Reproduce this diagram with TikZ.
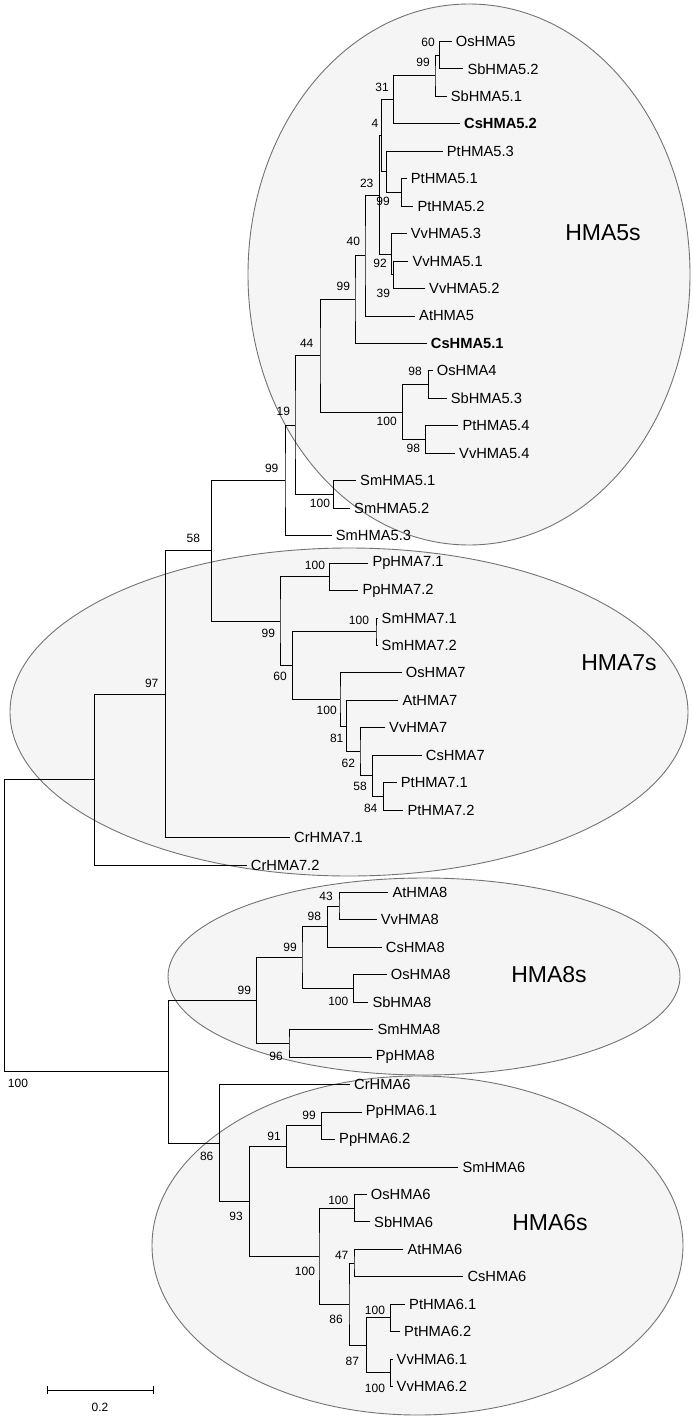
\documentclass[tikz,border=0pt]{standalone}
\usepackage{fontspec}
\setmainfont{Liberation Sans}
\begin{document}
\begin{tikzpicture}[x=1pt,y=-1pt,
  br/.style={line width=0.9pt, black},
  leaf/.style={anchor=west, inner sep=0pt, xshift=4pt, font=\fontsize{14.7}{16}\selectfont},
  bleaf/.style={leaf, font=\fontsize{14.7}{16}\selectfont\bfseries},
  boot/.style={inner sep=0pt, font=\fontsize{12}{13}\selectfont},
  grp/.style={inner sep=0pt, font=\fontsize{23}{26}\selectfont},
  cladefill/.style={fill=black!4, draw=none},
  cladeline/.style={draw=black!55, line width=0.9pt}]
\useasboundingbox (0,0) rectangle (693,1421);
% clade ellipses
\fill[cladefill] (469,274.5) ellipse [x radius=221pt, y radius=270.5pt];
\fill[cladefill] (349,712) ellipse [x radius=339pt, y radius=164pt];
\fill[cladefill] (424,976.5) ellipse [x radius=256pt, y radius=98.5pt];
\fill[cladefill] (417.5,1245.5) ellipse [x radius=265.5pt, y radius=169.5pt];
\draw[cladeline] (469,274.5) ellipse [x radius=221pt, y radius=270.5pt];
\draw[cladeline] (349,712) ellipse [x radius=339pt, y radius=164pt];
\draw[cladeline] (424,976.5) ellipse [x radius=256pt, y radius=98.5pt];
\draw[cladeline] (417.5,1245.5) ellipse [x radius=265.5pt, y radius=169.5pt];
\node[grp] (g5) at (603,233) {HMA5s};
\node[grp] (g7) at (619,663) {HMA7s};
\node[grp] (g8) at (549,975) {HMA8s};
\node[grp] (g6) at (550,1223) {HMA6s};
% leaves
\coordinate (a0) at (451.7,41.5);   \node[leaf] (L0) at (a0) {OsHMA5};
\coordinate (a1) at (463.3,68.95);  \node[leaf] (L1) at (a1) {SbHMA5.2};
\coordinate (a2) at (446.7,96.4);   \node[leaf] (L2) at (a2) {SbHMA5.1};
\coordinate (a3) at (460,123.85);   \node[bleaf] (L3) at (a3) {CsHMA5.2};
\coordinate (a4) at (442.7,151.3);  \node[leaf] (L4) at (a4) {PtHMA5.3};
\coordinate (a5) at (406.7,178.75); \node[leaf] (L5) at (a5) {PtHMA5.1};
\coordinate (a6) at (413.3,206.2);  \node[leaf] (L6) at (a6) {PtHMA5.2};
\coordinate (a7) at (406.7,233.65); \node[leaf] (L7) at (a7) {VvHMA5.3};
\coordinate (a8) at (408.3,261.1);  \node[leaf] (L8) at (a8) {VvHMA5.1};
\coordinate (a9) at (425,288.55);   \node[leaf] (L9) at (a9) {VvHMA5.2};
\coordinate (a10) at (415,316.0);   \node[leaf] (L10) at (a10) {AtHMA5};
\coordinate (a11) at (426.7,343.45);\node[bleaf] (L11) at (a11) {CsHMA5.1};
\coordinate (a12) at (432.7,370.9); \node[leaf] (L12) at (a12) {OsHMA4};
\coordinate (a13) at (446.7,398.35);\node[leaf] (L13) at (a13) {SbHMA5.3};
\coordinate (a14) at (458.3,425.8); \node[leaf] (L14) at (a14) {PtHMA5.4};
\coordinate (a15) at (455,453.25);  \node[leaf] (L15) at (a15) {VvHMA5.4};
\coordinate (a16) at (356,480.7);   \node[leaf] (L16) at (a16) {SmHMA5.1};
\coordinate (a17) at (350,508.15);  \node[leaf] (L17) at (a17) {SmHMA5.2};
\coordinate (a18) at (331.7,535.6); \node[leaf] (L18) at (a18) {SmHMA5.3};
\coordinate (a19) at (368.3,563.05);\node[leaf] (L19) at (a19) {PpHMA7.1};
\coordinate (a20) at (358.3,590.5); \node[leaf] (L20) at (a20) {PpHMA7.2};
\coordinate (a21) at (377.5,617.95);\node[leaf] (L21) at (a21) {SmHMA7.1};
\coordinate (a22) at (377.5,645.4); \node[leaf] (L22) at (a22) {SmHMA7.2};
\coordinate (a23) at (401.7,672.85);\node[leaf] (L23) at (a23) {OsHMA7};
\coordinate (a24) at (398.3,700.3); \node[leaf] (L24) at (a24) {AtHMA7};
\coordinate (a25) at (385,727.75);  \node[leaf] (L25) at (a25) {VvHMA7};
\coordinate (a26) at (421.7,755.2); \node[leaf] (L26) at (a26) {CsHMA7};
\coordinate (a27) at (396.7,782.65);\node[leaf] (L27) at (a27) {PtHMA7.1};
\coordinate (a28) at (403.3,810.1); \node[leaf] (L28) at (a28) {PtHMA7.2};
\coordinate (a29) at (290,837.55);  \node[leaf] (L29) at (a29) {CrHMA7.1};
\coordinate (a30) at (246.7,865.0); \node[leaf] (L30) at (a30) {CrHMA7.2};
\coordinate (a31) at (388.3,892.45);\node[leaf] (L31) at (a31) {AtHMA8};
\coordinate (a32) at (376.7,919.9); \node[leaf] (L32) at (a32) {VvHMA8};
\coordinate (a33) at (381.7,947.35);\node[leaf] (L33) at (a33) {CsHMA8};
\coordinate (a34) at (386.7,974.8); \node[leaf] (L34) at (a34) {OsHMA8};
\coordinate (a35) at (368.3,1002.25);\node[leaf] (L35) at (a35) {SbHMA8};
\coordinate (a36) at (373.3,1029.7);\node[leaf] (L36) at (a36) {SmHMA8};
\coordinate (a37) at (371.7,1057.15);\node[leaf] (L37) at (a37) {PpHMA8};
\coordinate (a38) at (350,1084.6);  \node[leaf] (L38) at (a38) {CrHMA6};
\coordinate (a39) at (361.7,1112.05);\node[leaf] (L39) at (a39) {PpHMA6.1};
\coordinate (a40) at (335,1139.5);  \node[leaf] (L40) at (a40) {PpHMA6.2};
\coordinate (a41) at (458.3,1166.95);\node[leaf] (L41) at (a41) {SmHMA6};
\coordinate (a42) at (366.7,1194.4);\node[leaf] (L42) at (a42) {OsHMA6};
\coordinate (a43) at (370,1221.85); \node[leaf] (L43) at (a43) {SbHMA6};
\coordinate (a44) at (403.3,1249.3);\node[leaf] (L44) at (a44) {AtHMA6};
\coordinate (a45) at (463.3,1276.75);\node[leaf] (L45) at (a45) {CsHMA6};
\coordinate (a46) at (405,1304.2);  \node[leaf] (L46) at (a46) {PtHMA6.1};
\coordinate (a47) at (400,1331.65); \node[leaf] (L47) at (a47) {PtHMA6.2};
\coordinate (a48) at (392.5,1359.1);\node[leaf] (L48) at (a48) {VvHMA6.1};
\coordinate (a49) at (392.5,1386.55);\node[leaf] (L49) at (a49) {VvHMA6.2};
% internal nodes
\coordinate (n60) at (439.3,55.2);
\coordinate (n99a) at (435,75.8);
\coordinate (n31) at (393.3,99.8);
\coordinate (n99b) at (401.7,192.5);
\coordinate (nPt) at (386.7,171.9);
\coordinate (n4) at (381.7,135.9);
\coordinate (n39) at (393.3,274.8);
\coordinate (nVv) at (391.7,254.2);
\coordinate (n23) at (379.3,195.1);
\coordinate (n40) at (365,255.6);
\coordinate (n99c) at (355,299.5);
\coordinate (n98a) at (428.3,384.6);
\coordinate (n98b) at (425.7,439.5);
\coordinate (n100a) at (402.7,412.05);
\coordinate (n44) at (320,355.8);
\coordinate (nSm5) at (333.3,494.4);
\coordinate (n19) at (295,425.1);
\coordinate (n99d) at (285,480.35);
\coordinate (nPp7) at (329.3,576.8);
\coordinate (nSm7) at (376,631.7);
\coordinate (n84) at (383.3,796.4);
\coordinate (n58b) at (372.7,775.8);
\coordinate (n62) at (360,751.8);
\coordinate (n81) at (346.7,726.05);
\coordinate (n100b) at (340,699.45);
\coordinate (n60b) at (292.3,665.6);
\coordinate (n99e) at (280,621.2);
\coordinate (n58) at (211.7,550.8);
\coordinate (n97) at (165.5,694.2);
\coordinate (nCr) at (94.3,779.6);
\coordinate (n43) at (339,906.2);
\coordinate (n98c) at (327.3,926.8);
\coordinate (nOsSb8) at (353.3,988.5);
\coordinate (n99f) at (302,957.65);
\coordinate (nSmPp8) at (289,1043.4);
\coordinate (n99g) at (256.7,1000.5);
\coordinate (n99h) at (321.7,1125.8);
\coordinate (n91) at (286.7,1146.4);
\coordinate (nOsSb6) at (354.3,1208.1);
\coordinate (n47) at (354,1263.0);
\coordinate (n100e) at (390.7,1317.9);
\coordinate (n100f) at (390.7,1372.8);
\coordinate (n87) at (366.7,1345.35);
\coordinate (n86b) at (349,1304.2);
\coordinate (n100d) at (319,1256.15);
\coordinate (n93) at (249.3,1201.3);
\coordinate (n86) at (219.3,1142.95);
\coordinate (n100c) at (168.3,1071.7);
\coordinate (root) at (4.5,925.6);
% branches
\draw[br] (a0) -| (n60) |- (a1);
\draw[br] (n60) -| (n99a) |- (a2);
\draw[br] (n99a) -| (n31) |- (a3);
\draw[br] (a5) -| (n99b) |- (a6);
\draw[br] (a4) -| (nPt) |- (n99b);
\draw[br] (n31) -| (n4) |- (nPt);
\draw[br] (a8) -| (n39) |- (a9);
\draw[br] (a7) -| (nVv) |- (n39);
\draw[br] (n4) -| (n23) |- (nVv);
\draw[br] (n23) -| (n40) |- (a10);
\draw[br] (n40) -| (n99c) |- (a11);
\draw[br] (a12) -| (n98a) |- (a13);
\draw[br] (a14) -| (n98b) |- (a15);
\draw[br] (n98a) -| (n100a) |- (n98b);
\draw[br] (n99c) -| (n44) |- (n100a);
\draw[br] (a16) -| (nSm5) |- (a17);
\draw[br] (n44) -| (n19) |- (nSm5);
\draw[br] (n19) -| (n99d) |- (a18);
\draw[br] (a19) -| (nPp7) |- (a20);
\draw[br] (a21) -| (nSm7) |- (a22);
\draw[br] (a27) -| (n84) |- (a28);
\draw[br] (a26) -| (n58b) |- (n84);
\draw[br] (a25) -| (n62) |- (n58b);
\draw[br] (a24) -| (n81) |- (n62);
\draw[br] (a23) -| (n100b) |- (n81);
\draw[br] (nSm7) -| (n60b) |- (n100b);
\draw[br] (nPp7) -| (n99e) |- (n60b);
\draw[br] (n99d) -| (n58) |- (n99e);
\draw[br] (n58) -| (n97) |- (a29);
\draw[br] (n97) -| (nCr) |- (a30);
\draw[br] (a31) -| (n43) |- (a32);
\draw[br] (n43) -| (n98c) |- (a33);
\draw[br] (a34) -| (nOsSb8) |- (a35);
\draw[br] (n98c) -| (n99f) |- (nOsSb8);
\draw[br] (a36) -| (nSmPp8) |- (a37);
\draw[br] (n99f) -| (n99g) |- (nSmPp8);
\draw[br] (a39) -| (n99h) |- (a40);
\draw[br] (n99h) -| (n91) |- (a41);
\draw[br] (a42) -| (nOsSb6) |- (a43);
\draw[br] (a44) -| (n47) |- (a45);
\draw[br] (a46) -| (n100e) |- (a47);
\draw[br] (a48) -| (n100f) |- (a49);
\draw[br] (n100e) -| (n87) |- (n100f);
\draw[br] (n47) -| (n86b) |- (n87);
\draw[br] (nOsSb6) -| (n100d) |- (n86b);
\draw[br] (n91) -| (n93) |- (n100d);
\draw[br] (a38) -| (n86) |- (n93);
\draw[br] (n99g) -| (n100c) |- (n86);
\draw[br] (nCr) -| (root) |- (n100c);
% bootstrap values
\node[boot] (b60) at (428,42) {60};
\node[boot] (b99a) at (423,62) {99};
\node[boot] (b31) at (382,87) {31};
\node[boot] (b4) at (375,123) {4};
\node[boot] (b99b) at (383,201) {99};
\node[boot] (b23) at (366.7,183) {23};
\node[boot] (b92) at (380,263.3) {92};
\node[boot] (b39) at (383.3,293.3) {39};
\node[boot] (b40) at (353.3,241.7) {40};
\node[boot] (b99c) at (343.3,286.7) {99};
\node[boot] (b98a) at (415,371.7) {98};
\node[boot] (b98b) at (413.3,448.3) {98};
\node[boot] (b100a) at (386.7,421.7) {100};
\node[boot] (b44) at (306.7,343.3) {44};
\node[boot] (b100s) at (320,503.3) {100};
\node[boot] (b19) at (283.3,411.7) {19};
\node[boot] (b99d) at (271.7,468.3) {99};
\node[boot] (b100p) at (315,565) {100};
\node[boot] (b100m) at (359,620) {100};
\node[boot] (b84) at (370.7,808.3) {84};
\node[boot] (b58b) at (360,786.7) {58};
\node[boot] (b62) at (348.3,763.3) {62};
\node[boot] (b81) at (336.7,738.3) {81};
\node[boot] (b100b) at (326.7,710) {100};
\node[boot] (b60b) at (280,676.7) {60};
\node[boot] (b99e) at (268.3,633.3) {99};
\node[boot] (b58) at (193.3,538.3) {58};
\node[boot] (b97) at (151.7,683.3) {97};
\node[boot] (b43) at (326,896) {43};
\node[boot] (b98c) at (314.3,916.7) {98};
\node[boot] (b100o) at (338.3,1001) {100};
\node[boot] (b99f) at (290,947.3) {99};
\node[boot] (b96) at (276,1056) {96};
\node[boot] (b99g) at (244.3,990.7) {99};
\node[boot] (b99h) at (309,1115) {99};
\node[boot] (b91) at (274,1136.7) {91};
\node[boot] (b100q) at (338.3,1200) {100};
\node[boot] (b47) at (341.7,1255) {47};
\node[boot] (b100e) at (375,1310.7) {100};
\node[boot] (b100f) at (375,1388.3) {100};
\node[boot] (b87) at (352.3,1361) {87};
\node[boot] (b86b) at (336,1319.3) {86};
\node[boot] (b100d) at (305,1271.7) {100};
\node[boot] (b93) at (236,1216.7) {93};
\node[boot] (b86) at (206.7,1156) {86};
\node[boot] (b100c) at (18,1083) {100};
% scale bar
\coordinate (s1) at (47,1390);
\coordinate (s2) at (153,1390);
\draw[br] ([yshift=-4pt]s1) -- ([yshift=4pt]s1);
\draw[br] ([yshift=-4pt]s2) -- ([yshift=4pt]s2);
\draw[br] (s1) -- (s2);
\node[boot] (sl) at (100,1407) {0.2};
\end{tikzpicture}
\end{document}
